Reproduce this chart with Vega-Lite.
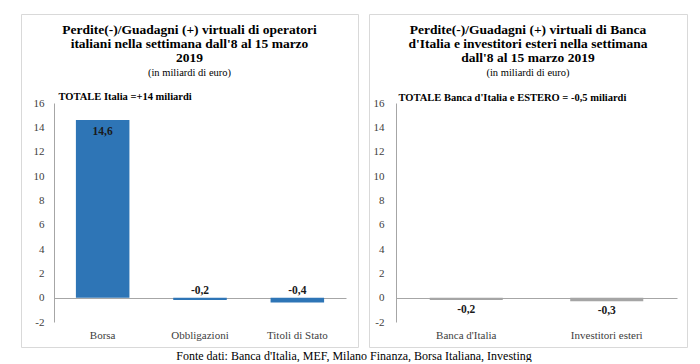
{
  "$schema": "https://vega.github.io/schema/vega-lite/v6.json",
  "padding": {"left": 20, "top": 13, "right": 0, "bottom": 0},
  "background": "white",
  "spacing": 9,
  "title": {
    "text": "Fonte dati: Banca d'Italia, MEF, Milano Finanza, Borsa Italiana, Investing",
    "orient": "bottom",
    "anchor": "middle",
    "offset": 3,
    "font": "Liberation Serif",
    "fontSize": 12,
    "fontWeight": "normal",
    "color": "#000000"
  },
  "hconcat": [
    {
      "width": 337,
      "height": 333,
      "title": {
        "text": ["Perdite(-)/Guadagni (+) virtuali di operatori", "italiani nella settimana dall'8 al 15 marzo", "2019"],
        "subtitle": "(in miliardi di euro)",
        "offset": -64
      },
      "data": {"values": [
        {"categoria": "Borsa", "valore": 14.6},
        {"categoria": "Obbligazioni", "valore": -0.2},
        {"categoria": "Titoli di Stato", "valore": -0.4}
      ]},
      "encoding": {
        "x": {
          "field": "categoria", "type": "nominal", "sort": null,
          "scale": {"range": [33, 325], "paddingInner": 0.45, "paddingOuter": 0.225},
          "axis": {"title": null, "labelAngle": 0, "domain": false, "ticks": false, "offset": -25, "labelPadding": 7, "labelBaseline": "top"}
        },
        "y": {
          "field": "valore", "type": "quantitative",
          "scale": {"domain": [-2, 16], "range": [308, 89], "nice": false, "zero": false},
          "axis": {
            "title": "TOTALE  Italia =+14 miliardi",
            "titleAngle": 0, "titleAlign": "left", "titleBaseline": "middle",
            "titleX": 4, "titleY": 82,
            "offset": -33,
            "values": [-2, 0, 2, 4, 6, 8, 10, 12, 14, 16],
            "ticks": false, "labelPadding": 10,
            "grid": true, "gridColor": "#a6a6a6",
            "gridOpacity": {"condition": {"test": "datum.value === 0", "value": 1}, "value": 0}
          }
        }
      },
      "layer": [
        {"mark": {"type": "bar", "color": "#2e75b6"}, "encoding": {"y2": {"datum": 0}}},
        {
          "transform": [{"filter": "datum.valore > 0"}],
          "mark": {"type": "text", "baseline": "top", "dy": 6, "font": "Liberation Serif", "fontWeight": "bold", "fontSize": 11.5, "color": "#1a1a1a"},
          "encoding": {"text": {"field": "valore", "type": "quantitative", "format": ".1f"}}
        },
        {
          "transform": [{"filter": "datum.valore < 0"}],
          "mark": {"type": "text", "baseline": "bottom", "dy": -2, "font": "Liberation Serif", "fontWeight": "bold", "fontSize": 11.5, "color": "#1a1a1a"},
          "encoding": {"y": {"datum": 0}, "text": {"field": "valore", "type": "quantitative", "format": ".1f"}}
        }
      ]
    },
    {
      "width": 318,
      "height": 333,
      "title": {
        "text": ["Perdite(-)/Guadagni (+)  virtuali di Banca", "d'Italia e investitori esteri  nella settimana", "dall'8 al 15 marzo 2019"],
        "subtitle": "(in miliardi di euro)",
        "offset": -64
      },
      "data": {"values": [
        {"categoria": "Banca d'Italia", "valore": -0.2},
        {"categoria": "Investitori esteri", "valore": -0.3}
      ]},
      "encoding": {
        "x": {
          "field": "categoria", "type": "nominal", "sort": null,
          "scale": {"range": [27, 308], "paddingInner": 0.48, "paddingOuter": 0.24},
          "axis": {"title": null, "labelAngle": 0, "domain": false, "ticks": false, "offset": -25, "labelPadding": 7, "labelBaseline": "top"}
        },
        "y": {
          "field": "valore", "type": "quantitative",
          "scale": {"domain": [-2, 16], "range": [308, 89], "nice": false, "zero": false},
          "axis": {
            "title": "TOTALE Banca d'Italia e ESTERO = -0,5 miliardi",
            "titleAngle": 0, "titleAlign": "left", "titleBaseline": "middle",
            "titleX": 2, "titleY": 83,
            "offset": -27,
            "values": [-2, 0, 2, 4, 6, 8, 10, 12, 14, 16],
            "ticks": false, "labelPadding": 12,
            "grid": true, "gridColor": "#a6a6a6",
            "gridOpacity": {"condition": {"test": "datum.value === 0", "value": 1}, "value": 0}
          }
        }
      },
      "layer": [
        {"mark": {"type": "bar", "color": "#a5a5a5"}, "encoding": {"y2": {"datum": 0}}},
        {
          "mark": {"type": "text", "baseline": "top", "dy": 4, "font": "Liberation Serif", "fontWeight": "bold", "fontSize": 11.5, "color": "#1a1a1a"},
          "encoding": {"text": {"field": "valore", "type": "quantitative", "format": ".1f"}}
        }
      ]
    }
  ],
  "config": {
    "locale": {"number": {"decimal": ",", "thousands": ".", "grouping": [3], "currency": ["", " €"], "minus": "-"}},
    "view": {"stroke": "#d9d9d9", "strokeWidth": 1},
    "title": {
      "font": "Liberation Serif", "fontSize": 13.5, "fontWeight": "bold", "color": "#000000",
      "lineHeight": 14, "anchor": "middle",
      "subtitleFont": "Liberation Serif", "subtitleFontSize": 10.5, "subtitleColor": "#000000", "subtitlePadding": 3
    },
    "axis": {
      "labelFont": "Liberation Serif", "labelFontSize": 11, "labelColor": "#404040",
      "titleFont": "Liberation Serif", "titleFontSize": 10.5, "titleFontWeight": "bold", "titleColor": "#000000",
      "domainColor": "#a6a6a6"
    }
  }
}
